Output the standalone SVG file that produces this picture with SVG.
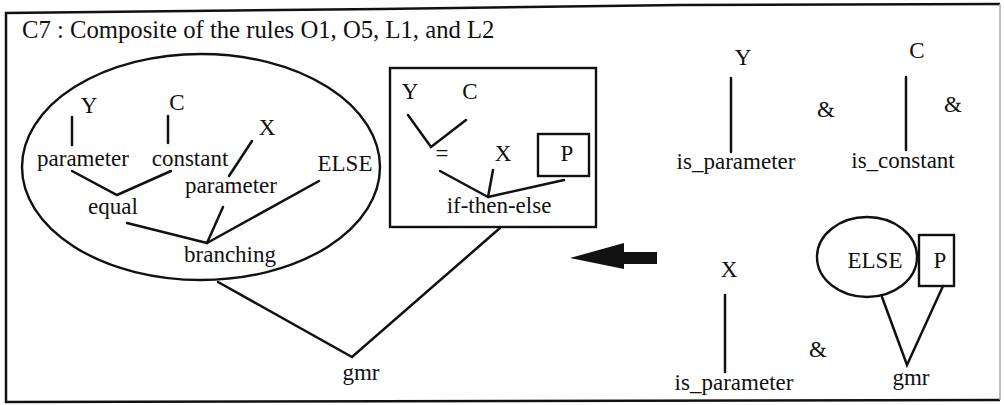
<svg xmlns="http://www.w3.org/2000/svg" width="1004" height="405" viewBox="0 0 1004 405">
  <style>
    .t { font-size: 23px; text-anchor: middle; }
    .title { font-size: 24.7px; }
    .ln { stroke: #111; stroke-width: 2.5; fill: none; stroke-linecap: round; }
    .shape { stroke: #111; stroke-width: 2.4; fill: none; }
  </style>

  <rect width="1004" height="405" fill="#fff"/>

  <g font-family="Liberation Serif, Tinos, DejaVu Serif, serif" fill="#111">
  <!-- outer frame -->
  <g id="frame">
    <polyline points="1000,4 680,5 380,9 6,13 6,402 1000,400" fill="none" stroke="#111" stroke-width="2.5"/>
    <line x1="1000" y1="4" x2="1000" y2="400" stroke="#aaa" stroke-width="1.5"/>
    <text class="title" x="22" y="38">C7 : Composite of the rules O1, O5, L1, and L2</text>
  </g>

  <!-- connectors -->
  <g id="connectors">
    <!-- composite tree inside the ellipse -->
    <line class="ln" x1="72" y1="117" x2="72" y2="145"/>
    <line class="ln" x1="168" y1="116" x2="168" y2="143"/>
    <polyline class="ln" points="72,171 117,195 171,171"/>
    <line class="ln" x1="252" y1="141" x2="229" y2="176"/>
    <line class="ln" x1="127" y1="223" x2="207" y2="243"/>
    <line class="ln" x1="223" y1="207" x2="207" y2="243"/>
    <line class="ln" x1="319" y1="181" x2="207" y2="243"/>
    <!-- to gmr -->
    <polyline class="ln" points="218,282 352,357 500,228"/>
    <!-- if-then-else tree inside the box -->
    <polyline class="ln" points="408,115 431,147 466,120"/>
    <line class="ln" x1="440" y1="171" x2="488" y2="197"/>
    <line class="ln" x1="493" y1="170" x2="488" y2="197"/>
    <line class="ln" x1="564" y1="180" x2="488" y2="197"/>
    <!-- rule patterns on the right -->
    <line class="ln" x1="731" y1="78" x2="731" y2="152"/>
    <line class="ln" x1="906" y1="77" x2="906" y2="150"/>
    <line class="ln" x1="725" y1="295" x2="725" y2="372"/>
    <polyline class="ln" points="882,297 907,365 943,286"/>
    <!-- rewrite arrow -->
    <polygon points="570,258 624,243 624,252 657,252 657,264 624,264 624,269" fill="#111"/>
  </g>

  <g id="composite">
    <ellipse class="shape" cx="201" cy="167" rx="179" ry="113"/>
    <text class="t" x="89" y="113">Y</text>
    <text class="t" x="177" y="110">C</text>
    <text class="t" x="267" y="135">X</text>
    <text class="t" x="83" y="166">parameter</text>
    <text class="t" x="190" y="166">constant</text>
    <text class="t" x="345" y="171">ELSE</text>
    <text class="t" x="231" y="193">parameter</text>
    <text class="t" x="113" y="214">equal</text>
    <text class="t" x="230" y="262">branching</text>
  </g>

  <g id="gmr-left">
    <text class="t" x="361" y="380">gmr</text>
  </g>

  <g id="ifthenelse">
    <rect class="shape" x="390" y="68" width="206" height="159"/>
    <text class="t" x="410" y="99">Y</text>
    <text class="t" x="470" y="99">C</text>
    <text class="t" x="442" y="161">=</text>
    <text class="t" x="503" y="161">X</text>
    <rect class="shape" x="538" y="134" width="51" height="42"/>
    <text class="t" x="567" y="161">P</text>
    <text class="t" x="499" y="213">if-then-else</text>
  </g>

  <g id="rule-y">
    <text class="t" x="743" y="65">Y</text>
    <text class="t" x="736" y="169">is_parameter</text>
  </g>
  <g id="amp1"><text class="t" x="826" y="117">&amp;</text></g>

  <g id="rule-c">
    <text class="t" x="917" y="58">C</text>
    <text class="t" x="903" y="168">is_constant</text>
  </g>
  <g id="amp2"><text class="t" x="953" y="112">&amp;</text></g>

  <g id="rule-x">
    <text class="t" x="729" y="277">X</text>
    <text class="t" x="734" y="390">is_parameter</text>
  </g>
  <g id="amp3"><text class="t" x="818" y="357">&amp;</text></g>

  <g id="rule-gmr">
    <ellipse class="shape" cx="867" cy="257" rx="50" ry="40"/>
    <text class="t" x="875" y="268">ELSE</text>
    <rect class="shape" x="919" y="235" width="35" height="51"/>
    <text class="t" x="940" y="268">P</text>
    <text class="t" x="911" y="385">gmr</text>
  </g>
  </g>
</svg>
